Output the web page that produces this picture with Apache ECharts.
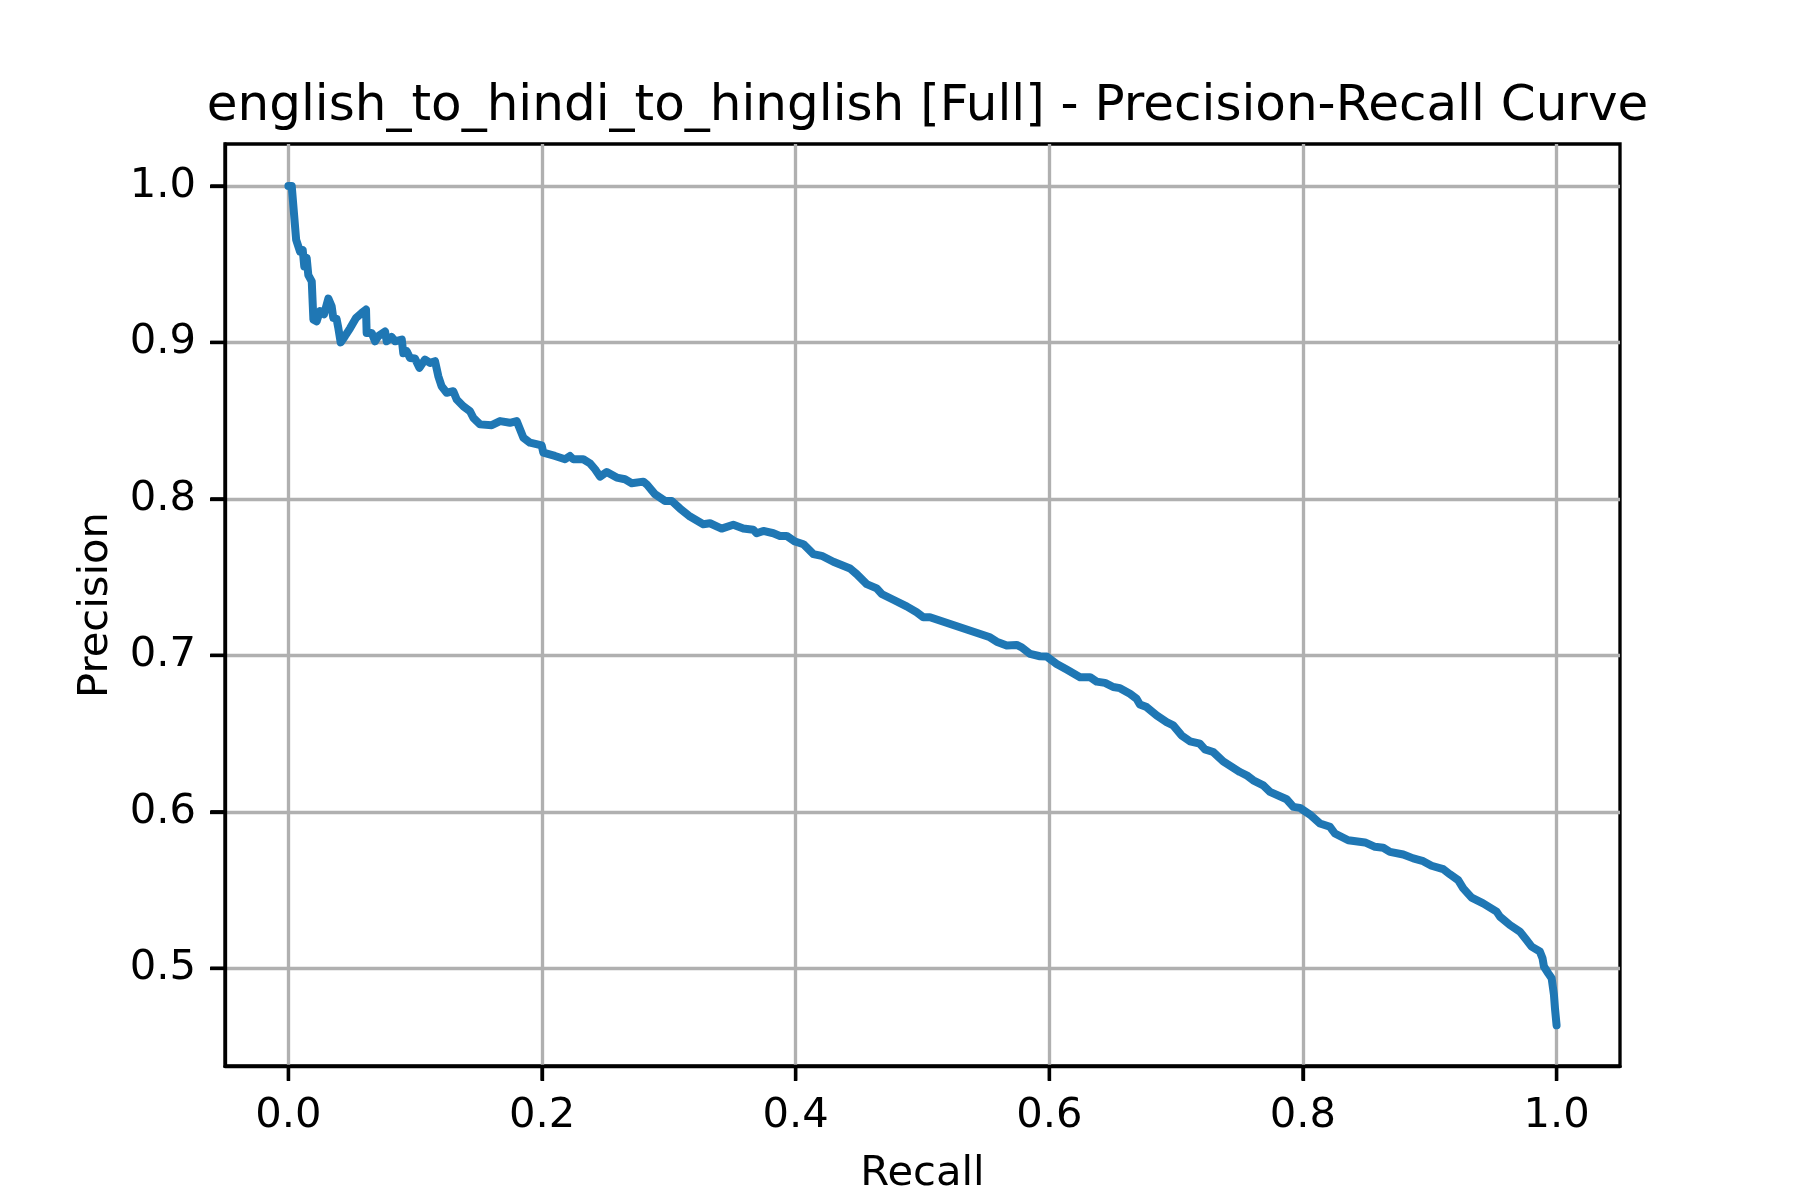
<!DOCTYPE html>
<html>
<head>
<meta charset="utf-8">
<script src="https://cdn.jsdelivr.net/npm/echarts@6/dist/echarts.min.js"></script>
<style>
html,body{margin:0;padding:0;background:#fff;}
#chart{width:1800px;height:1200px;}
</style>
</head>
<body>
<div id="chart"></div>
<script>
const titleText = "english_to_hindi_to_hinglish [Full] - Precision-Recall Curve";
const xName = "Recall";
const yName = "Precision";
const xTicks = [0.0, 0.2, 0.4, 0.6, 0.8, 1.0];
const yTicks = [0.5, 0.6, 0.7, 0.8, 0.9, 1.0];
const xMin = -0.05, xMax = 1.05;
const yMin = 0.4375, yMax = 1.0268;

const recall = [
0, 0.0026, 0.0061, 0.0092, 0.0113, 0.0125, 0.0144, 0.0157, 0.0184, 0.0197,
0.0223, 0.0249, 0.0281, 0.0315, 0.0341, 0.0354, 0.038, 0.0394, 0.0412, 0.0446,
0.0486, 0.0533, 0.0578, 0.0612, 0.0617, 0.0657, 0.0683, 0.0709, 0.0762, 0.0775,
0.0814, 0.0841, 0.0894, 0.0906, 0.0933, 0.0959, 0.0998, 0.1033, 0.1077, 0.1117,
0.1156, 0.1182, 0.1208, 0.1248, 0.130, 0.1327, 0.1379, 0.1432, 0.1458, 0.1511,
0.1603, 0.1669, 0.1747, 0.180, 0.1853, 0.1905, 0.1997, 0.201, 0.2102, 0.2181,
0.222, 0.2246, 0.2325, 0.2378, 0.2418, 0.2457, 0.251, 0.2589, 0.2654, 0.2707,
0.2799, 0.2825, 0.289, 0.2969, 0.3022, 0.3088, 0.3167, 0.3271, 0.3324, 0.3416,
0.3508, 0.3587, 0.3666, 0.3692, 0.3745, 0.3824, 0.3876, 0.3929, 0.3995, 0.4061,
0.414, 0.4205, 0.4297, 0.4429, 0.4481, 0.456, 0.4639, 0.4678, 0.477, 0.4875,
0.4954, 0.5006, 0.5059, 0.5532, 0.5585, 0.5664, 0.5743, 0.5782, 0.5848, 0.5926,
0.5979, 0.6058, 0.6137, 0.6242, 0.6321, 0.6373, 0.6439, 0.6504, 0.6557, 0.6636,
0.6688, 0.6714, 0.6767, 0.6846, 0.6925, 0.6977, 0.7043, 0.7109, 0.7187, 0.7227,
0.7292, 0.7371, 0.7503, 0.7556, 0.7608, 0.7687, 0.774, 0.7871, 0.7924, 0.7976,
0.8055, 0.8134, 0.8213, 0.8252, 0.8357, 0.8489, 0.8568, 0.8633, 0.8686, 0.8791,
0.887, 0.8948, 0.9014, 0.9106, 0.9159, 0.9224, 0.9264, 0.933, 0.9421, 0.9527,
0.9553, 0.9632, 0.971, 0.9763, 0.9803, 0.9868, 0.9889, 0.99, 0.9934, 0.9961,
0.9979, 0.9987, 1.0
];
const precision = [
1.0, 1.0, 0.9656, 0.958, 0.959, 0.9485, 0.954, 0.943, 0.939, 0.9145,
0.9135, 0.920, 0.918, 0.928, 0.923, 0.9156, 0.915, 0.909, 0.900, 0.904,
0.909, 0.9156, 0.9188, 0.921, 0.906, 0.906, 0.9007, 0.904, 0.907, 0.9007,
0.9035, 0.9007, 0.9018, 0.893, 0.8943, 0.890, 0.8897, 0.8837, 0.889, 0.8869,
0.888, 0.8784, 0.872, 0.8678, 0.8688, 0.8635, 0.8592, 0.856, 0.8518, 0.8476,
0.8471, 0.8497, 0.8486, 0.8497, 0.839, 0.8359, 0.8342, 0.8295, 0.8274, 0.8253,
0.8274, 0.8253, 0.8253, 0.8227, 0.8189, 0.8142, 0.8172, 0.8136, 0.8125, 0.81,
0.811, 0.8093, 0.803, 0.7987, 0.7987, 0.7938, 0.7887, 0.7838, 0.7844, 0.781,
0.7834, 0.781, 0.7802, 0.778, 0.7795, 0.778, 0.7763, 0.7763, 0.7727, 0.771,
0.7647, 0.7636, 0.7598, 0.7555, 0.7519, 0.7455, 0.7428, 0.7392, 0.7355, 0.7313,
0.7275, 0.7243, 0.7243, 0.7115, 0.7087, 0.7062, 0.7066, 0.7051, 0.7009, 0.6994,
0.6992, 0.6945, 0.6909, 0.686, 0.686, 0.6832, 0.6824, 0.6797, 0.679, 0.6754,
0.6722, 0.6686, 0.6669, 0.6616, 0.6573, 0.6552, 0.6488, 0.645, 0.6435, 0.6399,
0.6382, 0.6322, 0.6254, 0.6233, 0.6201, 0.6169, 0.6127, 0.608, 0.6031, 0.6025,
0.5982, 0.5925, 0.5904, 0.5861, 0.5818, 0.5804, 0.5776, 0.577, 0.5744, 0.5727,
0.5702, 0.5684, 0.5655, 0.5633, 0.56, 0.5563, 0.551, 0.5451, 0.5414, 0.5362,
0.533, 0.5276, 0.5234, 0.518, 0.5138, 0.5107, 0.5064, 0.5011, 0.4968, 0.4936,
0.483, 0.4745, 0.4635
];

const FONT = "DejaVu Sans";
const chart = echarts.init(document.getElementById('chart'), null, {renderer: 'canvas'});
const pts = recall.map((r, i) => [r, precision[i]]);

chart.setOption({
  animation: false,
  backgroundColor: '#ffffff',
  title: {
    text: titleText,
    left: 922.5,
    top: 77,
    textAlign: 'center',
    textStyle: {fontFamily: FONT, fontSize: 50, fontWeight: 'normal', color: '#000'}
  },
  grid: {
    left: 225, right: 180, top: 144, bottom: 132,
    show: true, borderColor: '#000', borderWidth: 3.33
  },
  xAxis: {
    type: 'value',
    min: xMin, max: xMax,
    name: xName,
    nameLocation: 'middle',
    nameGap: 87,
    nameTextStyle: {fontFamily: FONT, fontSize: 41.7, color: '#000'},
    axisLine: {show: true, onZero: false, lineStyle: {color: '#000', width: 3.33}},
    axisTick: {show: true, length: 15, customValues: xTicks, lineStyle: {color: '#000', width: 3.33}},
    axisLabel: {
      customValues: xTicks, margin: 29,
      fontFamily: FONT, fontSize: 41.7, color: '#000',
      formatter: v => Number(v).toFixed(1)
    },
    splitLine: {show: true, lineStyle: {color: '#b0b0b0', width: 3.33}}
  },
  yAxis: {
    type: 'value',
    min: yMin, max: yMax,
    name: yName,
    nameLocation: 'middle',
    nameGap: 108,
    nameTextStyle: {fontFamily: FONT, fontSize: 41.7, color: '#000'},
    axisLine: {show: true, onZero: false, lineStyle: {color: '#000', width: 3.33}},
    axisTick: {show: true, length: 15, customValues: yTicks, lineStyle: {color: '#000', width: 3.33}},
    axisLabel: {
      customValues: yTicks, margin: 29,
      fontFamily: FONT, fontSize: 41.7, color: '#000',
      formatter: v => Number(v).toFixed(1)
    },
    splitLine: {show: true, lineStyle: {color: '#b0b0b0', width: 3.33}}
  },
  series: [{
    type: 'line',
    data: pts,
    showSymbol: false,
    symbol: 'none',
    lineStyle: {color: '#1f77b4', width: 8, join: 'round', cap: 'round'},
    itemStyle: {color: '#1f77b4'},
    z: 3
  }]
});

// Outward tick marks placed through the chart's own axis scales
const TICK_LEN = 14.6;
const tickElems = [];
const yBase = chart.convertToPixel({yAxisIndex: 0}, yMin);
xTicks.forEach(v => {
  const px = chart.convertToPixel({xAxisIndex: 0}, v);
  tickElems.push({type: 'line', silent: true, z: 10,
    shape: {x1: px, y1: yBase, x2: px, y2: yBase + TICK_LEN},
    style: {stroke: '#000', lineWidth: 3.33}});
});
const xBase = chart.convertToPixel({xAxisIndex: 0}, xMin);
yTicks.forEach(v => {
  const py = chart.convertToPixel({yAxisIndex: 0}, v);
  tickElems.push({type: 'line', silent: true, z: 10,
    shape: {x1: xBase - TICK_LEN, y1: py, x2: xBase, y2: py},
    style: {stroke: '#000', lineWidth: 3.33}});
});
chart.setOption({graphic: tickElems});
</script>
</body>
</html>
